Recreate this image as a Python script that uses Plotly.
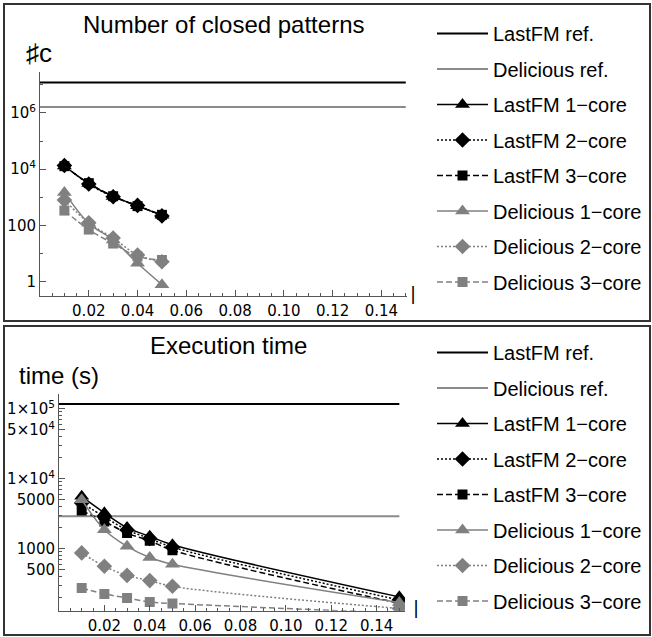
import plotly.graph_objects as go

# ---------------- data ----------------
support = [0.01, 0.02, 0.03, 0.04, 0.05]
support_time = [0.01, 0.02, 0.03, 0.04, 0.05, 0.15]
ref_span = [0.0, 0.15]

# Number of closed patterns
closed_lastfm_ref = 1.2e7
closed_delicious_ref = 1.6e6
closed_lastfm_1 = [13000, 3100, 1080, 500, 230]
closed_lastfm_2 = [13500, 3000, 1050, 520, 220]
closed_lastfm_3 = [12800, 3200, 1100, 490, 240]
closed_delicious_1 = [1500, 120, 31, 4.6, 0.8]
closed_delicious_2 = [800, 125, 36, 9, 5.2]
closed_delicious_3 = [340, 72, 23, 8, 6]

# Execution time (s)
time_lastfm_ref = 1.17e5
time_delicious_ref = 2900
time_lastfm_1 = [5600, 3250, 2000, 1500, 1140, 205]
time_lastfm_2 = [4500, 2850, 1850, 1400, 1050, 185]
time_lastfm_3 = [3500, 2450, 1670, 1300, 950, 166]
time_delicious_1 = [5000, 1870, 1080, 750, 600, 170]
time_delicious_2 = [870, 560, 415, 350, 290, 140]
time_delicious_3 = [275, 226, 198, 173, 165, 120]

names = ["LastFM 1\u2212core", "LastFM 2\u2212core", "LastFM 3\u2212core",
         "Delicious 1\u2212core", "Delicious 2\u2212core", "Delicious 3\u2212core"]
ref_names = ["LastFM ref.", "Delicious ref."]

BLACK = "#000000"
GRAY = "#808080"
REF_GRAY = "#8a8a8a"
DOT = "2px,2px"
DASH = "6px,3px"
styles = [
    dict(color=BLACK, dash="solid", symbol="triangle-up", size=13),
    dict(color=BLACK, dash=DOT, symbol="diamond", size=12),
    dict(color=BLACK, dash=DASH, symbol="square", size=10),
    dict(color=GRAY, dash="solid", symbol="triangle-up", size=13),
    dict(color=GRAY, dash=DOT, symbol="diamond", size=12),
    dict(color=GRAY, dash=DASH, symbol="square", size=10),
]

fig = go.Figure()


def add_panel(xs, series, refs, xa, ya, legend):
    for i, (nm, val) in enumerate(zip(ref_names, refs)):
        fig.add_trace(go.Scatter(
            x=ref_span, y=[val, val], mode="lines", name=nm,
            line=dict(color=BLACK if i == 0 else REF_GRAY, width=2),
            xaxis=xa, yaxis=ya, legend=legend, legendgroup=legend + nm,
            hoverinfo="skip"))
    for nm, ys, st in zip(names, series, styles):
        fig.add_trace(go.Scatter(
            x=xs[:len(ys)], y=ys, mode="lines+markers", name=nm,
            line=dict(color=st["color"], dash=st["dash"], width=1.5,
                      shape="spline", smoothing=1),
            marker=dict(symbol=st["symbol"], size=st["size"], color=st["color"]),
            xaxis=xa, yaxis=ya, legend=legend, legendgroup=legend + nm))


add_panel(support,
          [closed_lastfm_1, closed_lastfm_2, closed_lastfm_3,
           closed_delicious_1, closed_delicious_2, closed_delicious_3],
          [closed_lastfm_ref, closed_delicious_ref], "x", "y", "legend")
add_panel(support_time,
          [time_lastfm_1, time_lastfm_2, time_lastfm_3,
           time_delicious_1, time_delicious_2, time_delicious_3],
          [time_lastfm_ref, time_delicious_ref], "x2", "y2", "legend2")

W, H = 652, 637


def px(x):
    return x / W


def py(y):
    return 1 - y / H


AX_COLOR = "#555555"
tick_font = dict(family="DejaVu Sans", size=15, color="#000000")
xticks = [0.02, 0.04, 0.06, 0.08, 0.10, 0.12, 0.14]
xtext = ["0.02", "0.04", "0.06", "0.08", "0.10", "0.12", "0.14"]

common_x = dict(showgrid=False, zeroline=False, showline=True, linecolor=AX_COLOR,
                linewidth=1, ticks="inside", ticklen=6, tickcolor=AX_COLOR,
                tickmode="array", tickvals=xticks, ticktext=xtext,
                tickfont=tick_font, ticklabelstandoff=1,
                minor=dict(ticks="inside", dtick=0.005, tick0=0, ticklen=3,
                           tickcolor=AX_COLOR))
common_y = dict(type="log", showgrid=False, zeroline=False, showline=True,
                linecolor=AX_COLOR, linewidth=1, ticks="inside", ticklen=6,
                tickcolor=AX_COLOR, tickfont=tick_font, tickmode="array")

minor_top = [10, 1e3, 1e5, 1e7]
minor_bottom = [200, 300, 400, 600, 700, 800, 900,
                2000, 3000, 4000, 6000, 7000, 8000, 9000,
                20000, 30000, 40000, 60000, 70000, 80000, 90000]

legend_common = dict(font=dict(family="Liberation Sans, Arial", size=20, color="#000"),
                     bgcolor="rgba(0,0,0,0)", borderwidth=0, itemwidth=51,
                     tracegroupgap=6.5, xanchor="left", yanchor="top",
                     itemclick=False, itemdoubleclick=False)

fig.update_layout(
    width=W, height=H, margin=dict(l=0, r=0, t=0, b=0),
    paper_bgcolor="white", plot_bgcolor="white",
    xaxis=dict(domain=[px(40), px(407)], range=[0, 0.1505], anchor="y", **common_x),
    yaxis=dict(domain=[py(296), py(72)], range=[-0.5, 7.45], anchor="x",
               tickvals=[1, 100, 1e4, 1e6],
               ticktext=["1", "100", "10<sup>4</sup>", "10<sup>6</sup>"],
               minor=dict(ticks="inside", tickmode="array", tickvals=minor_top,
                          ticklen=3, tickcolor=AX_COLOR),
               **common_y),
    xaxis2=dict(domain=[px(59), px(405)], range=[0, 0.1525], anchor="y2", **common_x),
    yaxis2=dict(domain=[py(610.7), py(394)], range=[2.114, 5.21], anchor="x2",
                tickvals=[500, 1000, 5000, 1e4, 5e4, 1e5],
                ticktext=["500", "1000", "5000", "1\u00d710<sup>4</sup>",
                          "5\u00d710<sup>4</sup>", "1\u00d710<sup>5</sup>"],
                minor=dict(ticks="inside", tickmode="array", tickvals=minor_bottom,
                           ticklen=3, tickcolor=AX_COLOR),
                **common_y),
    legend=dict(x=px(432), y=py(14), **legend_common),
    legend2=dict(x=px(432), y=py(333), **legend_common),
    showlegend=True,
)

title_font = dict(family="Liberation Sans, Arial", size=24, color="#000")
annots = [
    dict(text="Number of closed patterns", x=px(223), y=py(24)),
    dict(text="Execution time", x=px(228), y=py(345)),
]
for a in annots:
    fig.add_annotation(xref="paper", yref="paper", showarrow=False,
                       xanchor="center", yanchor="middle", font=title_font, **a)

fig.add_annotation(text="\u266fc", xref="paper", yref="paper", x=px(24), y=py(53),
                   xanchor="left", yanchor="middle", showarrow=False,
                   font=dict(family="Liberation Sans, Arial", size=26, color="#000"))
fig.add_annotation(text="time (s)", xref="paper", yref="paper", x=px(17), y=py(375),
                   xanchor="left", yanchor="middle", showarrow=False, font=title_font)
for (xx, yy) in [(413, 293), (416, 607)]:
    fig.add_annotation(text="|", xref="paper", yref="paper", x=px(xx), y=py(yy),
                       xanchor="center", yanchor="middle", showarrow=False,
                       font=dict(family="DejaVu Sans", size=18, color="#000"))

# panel frames
for (y0, y1) in [(4, 321), (326, 635)]:
    fig.add_shape(type="rect", xref="paper", yref="paper",
                  x0=px(4), x1=px(650), y0=py(y1), y1=py(y0),
                  line=dict(color="#333333", width=2), fillcolor="rgba(0,0,0,0)",
                  layer="above")

fig.write_html("out.html", config={"displayModeBar": False},
               post_script="document.body.style.margin='0';document.body.style.overflow='hidden';")
